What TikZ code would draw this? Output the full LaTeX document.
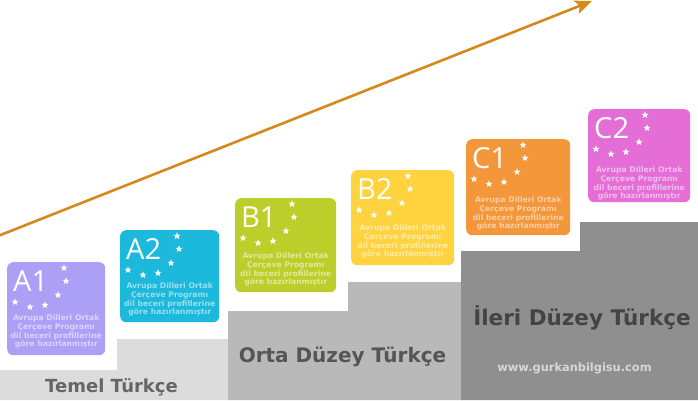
\documentclass[tikz,border=0pt]{standalone}
\usepackage{fontspec}
\setmainfont{DejaVu Sans}
\newfontfamily\lvlfont{Open Sans}
\usetikzlibrary{shapes.geometric,arrows.meta}
\definecolor{cA1}{RGB}{172,160,246}
\definecolor{cA2}{RGB}{28,185,220}
\definecolor{cB1}{RGB}{188,206,42}
\definecolor{cB2}{RGB}{255,211,63}
\definecolor{cC1}{RGB}{244,150,58}
\definecolor{cC2}{RGB}{228,110,214}
\definecolor{grayL}{RGB}{220,220,220}
\definecolor{grayM}{RGB}{185,185,185}
\definecolor{grayD}{RGB}{143,143,143}
\definecolor{arrowcol}{RGB}{212,137,26}
\tikzset{
  levelbox/.style={rounded corners=6pt, anchor=north west, inner sep=0pt, draw=none},
  lvl/.style={font=\lvlfont\fontsize{29}{29}\selectfont, text=white, inner sep=0pt, anchor=base west},
  starnode/.style={star, star points=5, star point ratio=2.4, fill=white, inner sep=0pt, minimum size=7.5pt},
  desc/.style={font=\bfseries\fontsize{7.7}{8.8}\selectfont, text=white, text opacity=0.55, align=center, inner sep=0pt, anchor=north},
  steplabel/.style={font=\bfseries, inner sep=0pt, anchor=base},
  arrowline/.style={draw=arrowcol, line width=2.6pt, -{Stealth[length=17pt,width=14pt,inset=4pt]}}
}
\newcommand{\levelcard}[8]{%
  % #1 name, #2 x, #3 y, #4 w, #5 h, #6 color, #7 label, #8 text offset
  \node[levelbox, fill=#6, minimum width=#4pt, minimum height=#5pt] (#1) at (#2,#3) {};
  \node[lvl] (#1-l) at ([shift={(6,29)}]#1.north west) {#7};
  \foreach \dx/\dy [count=\i] in {57/6, 59/19, 51/33, 38/43, 23/45, 8/40}
    \node[starnode] (#1-s\i) at ([shift={(\dx,\dy)}]#1.north west) {};
  \node[desc] (#1-d) at ([yshift=-#8pt]#1.north) {Avrupa Dilleri Ortak\\Çerçeve Programı\\dil beceri profillerine\\göre hazırlanmıştır};
}
\begin{document}
\begin{tikzpicture}[x=1pt,y=-1pt]
\useasboundingbox (0,0) rectangle (698,400);
% steps
\fill[grayL] (0,370) -- (117,370) -- (117,339) -- (228,339) -- (228,400) -- (0,400) -- cycle;
\fill[grayM] (228,311) -- (348,311) -- (348,282) -- (462,282) -- (462,400) -- (228,400) -- cycle;
\fill[grayD] (461,251) -- (580,251) -- (580,222) -- (698,222) -- (698,400) -- (461,400) -- cycle;
% step labels
\node[steplabel, text={rgb,255:red,102;green,102;blue,102}, font=\bfseries\fontsize{18}{18}\selectfont] (t1) at (111.5,392) {Temel Türkçe};
\node[steplabel, text={rgb,255:red,85;green,85;blue,85}, font=\bfseries\fontsize{20}{20}\selectfont] (t2) at (342.5,362) {Orta Düzey Türkçe};
\node[steplabel, text={rgb,255:red,68;green,68;blue,68}, font=\bfseries\fontsize{21.5}{21.5}\selectfont] (t3) at (582,325) {İleri Düzey Türkçe};
\node[steplabel, text={rgb,255:red,215;green,215;blue,215}, font=\bfseries\fontsize{11.4}{11.4}\selectfont] (url) at (574.5,371) {www.gurkanbilgisu.com};
% arrow
\coordinate (as) at (-2,236);
\coordinate (ae) at (592,1);
\draw[arrowline] (as) -- (ae);
% cards
\levelcard{a1}{7}{262}{98}{93}{cA1}{A1}{52.5}
\levelcard{a2}{120}{230}{99}{92}{cA2}{A2}{52.5}
\levelcard{b1}{235}{198}{101}{94}{cB1}{B1}{54.5}
\levelcard{b2}{351}{170}{103}{95}{cB2}{B2}{54.5}
\levelcard{c1}{466}{139}{104}{96}{cC1}{C1}{57.5}
\levelcard{c2}{588}{109}{102}{93}{cC2}{C2}{57.5}
\end{tikzpicture}
\end{document}
